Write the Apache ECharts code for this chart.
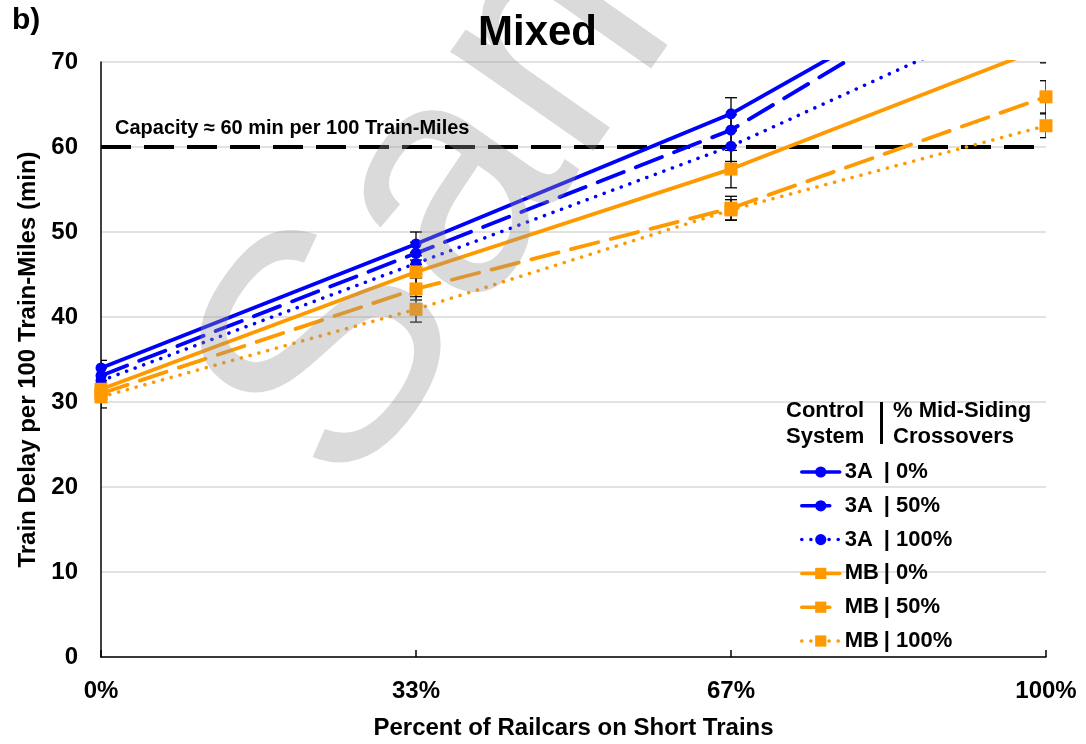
<!DOCTYPE html>
<html>
<head>
<meta charset="utf-8">
<script src="https://cdn.jsdelivr.net/npm/echarts@6/dist/echarts.min.js"></script>
<style>html,body{margin:0;padding:0;background:#fff}#c{width:1086px;height:744px}</style>
</head>
<body>
<div id="c"></div>
<script>
const categories = ['0%', '33%', '67%', '100%'];
const yTicks = [0, 10, 20, 30, 40, 50, 60, 70];
const capacityValue = 60;

const a3_0   = [34.0, 48.6, 63.9, 84.8];
const a3_50  = [33.1, 47.5, 62.0, 84.1];
const a3_100 = [32.5, 46.3, 60.1, 77.0];
const mb_0   = [31.5, 45.3, 57.4, 71.8];
const mb_50  = [31.0, 43.3, 52.8, 65.9];
const mb_100 = [30.6, 40.9, 52.6, 62.5];

const err_a3_0   = [0.9, 1.4, 1.9, 2.0];
const err_a3_50  = [0.9, 1.3, 1.8, 2.0];
const err_a3_100 = [0.9, 1.3, 1.8, 2.0];
const err_mb_0   = [1.0, 1.4, 2.2, 1.9];
const err_mb_50  = [1.0, 1.3, 1.4, 1.9];
const err_mb_100 = [1.3, 1.5, 1.2, 1.4];

const seriesNames = ['3A | 0%', '3A | 50%', '3A | 100%', 'MB | 0%', 'MB | 50%', 'MB | 100%'];
const legendLeft = ['3A', '3A', '3A', 'MB', 'MB', 'MB'];
const legendRight = ['| 0%', '| 50%', '| 100%', '| 0%', '| 50%', '| 100%'];

const BLUE = '#0000ff';
const ORANGE = '#ff9900';
const FONT = "'Liberation Sans', Arial, sans-serif";

const values = [a3_0, a3_50, a3_100, mb_0, mb_50, mb_100];
const errs = [err_a3_0, err_a3_50, err_a3_100, err_mb_0, err_mb_50, err_mb_100];
const colors = [BLUE, BLUE, BLUE, ORANGE, ORANGE, ORANGE];
const symbols = ['circle', 'circle', 'circle', 'rect', 'rect', 'rect'];
const symSizes = [11, 11, 11, 13, 13, 13];
const lineTypes = ['solid', [28, 13], [0.1, 9], 'solid', [28, 13], [0.1, 9]];
const lineWidths = [3.8, 3.8, 3.5, 3.8, 3.8, 3.5];

const series = [];
series.push({
  name: 'Capacity', type: 'line', data: categories.map(() => capacityValue),
  symbol: 'none', silent: true, z: 1,
  lineStyle: { color: '#000', width: 4, type: [30, 13] }
});
values.forEach((vals, si) => {
  series.push({
    name: seriesNames[si] + ' err', type: 'custom', z: 2, clip: true, silent: true,
    data: vals.map((v, i) => [i, v - errs[si][i], v + errs[si][i]]),
    renderItem: function (params, api) {
      const x = api.value(0);
      const lo = api.coord([x, api.value(1)]);
      const hi = api.coord([x, api.value(2)]);
      const cw = 6;
      const st = { stroke: '#000', lineWidth: 1.3, fill: null };
      return {
        type: 'group', children: [
          { type: 'line', shape: { x1: lo[0], y1: lo[1], x2: hi[0], y2: hi[1] }, style: st },
          { type: 'line', shape: { x1: lo[0] - cw, y1: lo[1], x2: lo[0] + cw, y2: lo[1] }, style: st },
          { type: 'line', shape: { x1: hi[0] - cw, y1: hi[1], x2: hi[0] + cw, y2: hi[1] }, style: st }
        ]
      };
    }
  });
});
values.forEach((vals, si) => {
  series.push({
    name: seriesNames[si], type: 'line', data: vals, z: 3,
    symbol: symbols[si], symbolSize: symSizes[si], showAllSymbol: true,
    itemStyle: { color: colors[si] },
    lineStyle: { color: colors[si], width: lineWidths[si], type: lineTypes[si], cap: 'round' }
  });
});

const chart = echarts.init(document.getElementById('c'), null, { renderer: 'canvas' });
chart.setOption({
  animation: false,
  backgroundColor: '#fff',
  textStyle: { fontFamily: FONT },
  grid: { left: 101, right: 40, top: 62, bottom: 87, containLabel: false, outerBoundsMode: 'none' },
  xAxis: {
    type: 'category', data: categories, boundaryGap: false,
    name: 'Percent of Railcars on Short Trains', nameLocation: 'middle', nameGap: 59,
    nameTextStyle: { fontSize: 24, fontWeight: 'bold', color: '#000', fontFamily: FONT },
    axisLine: { lineStyle: { color: '#000', width: 1.5 } },
    axisTick: { show: true, inside: true, length: 7, lineStyle: { color: '#000', width: 1.5 } },
    axisLabel: { fontSize: 24, fontWeight: 'bold', color: '#000', margin: 22, fontFamily: FONT },
    splitLine: { show: false }
  },
  yAxis: {
    type: 'value', min: yTicks[0], max: yTicks[yTicks.length - 1], interval: 10,
    name: 'Train Delay per 100 Train-Miles (min)', nameLocation: 'middle', nameGap: 56,
    nameTextStyle: { fontSize: 24, fontWeight: 'bold', color: '#000', fontFamily: FONT },
    axisLine: { show: true, lineStyle: { color: '#000', width: 1.5 } },
    axisTick: { show: false },
    axisLabel: { fontSize: 24, fontWeight: 'bold', color: '#000', margin: 23, fontFamily: FONT },
    splitLine: { lineStyle: { color: '#d9d9d9', width: 1.5 } }
  },
  legend: {
    data: seriesNames, orient: 'vertical', left: 795, top: 456,
    itemWidth: 38, itemHeight: 14, itemGap: 11.8,
    lineStyle: { width: 3.5 },
    textStyle: {
      fontSize: 22, fontWeight: 'bold', color: '#000', lineHeight: 22, fontFamily: FONT,
      rich: {
        a: { width: 39, fontSize: 22, fontWeight: 'bold', color: '#000', fontFamily: FONT },
        b: { fontSize: 22, fontWeight: 'bold', color: '#000', fontFamily: FONT }
      }
    },
    formatter: function (name) {
      const i = seriesNames.indexOf(name);
      return '{a|' + legendLeft[i] + '}{b|' + legendRight[i] + '}';
    }
  },
  graphic: [
    { type: 'text', x: 595, y: -10, rotation: 55 * Math.PI / 180, z: 100, silent: true,
      style: { text: 'Sample', fontSize: 330, fontFamily: FONT, fill: 'rgba(150,150,150,0.35)', align: 'center', verticalAlign: 'middle' } },
    { type: 'text', left: 12, top: 6, z: 200, style: { text: 'b)', fontSize: 30, fontWeight: 'bold', fill: '#000', fontFamily: FONT } },
    { type: 'text', left: 478, top: 12, z: 200, style: { text: 'Mixed', fontSize: 42, fontWeight: 'bold', fill: '#000', fontFamily: FONT } },
    { type: 'text', left: 115, top: 118, z: 200, style: { text: 'Capacity \u2248 60 min per 100 Train-Miles', fontSize: 20, fontWeight: 'bold', fill: '#000', fontFamily: FONT } },
    { type: 'text', left: 786, top: 398, z: 200, style: { text: 'Control\nSystem', fontSize: 22, lineHeight: 26, fontWeight: 'bold', fill: '#000', fontFamily: FONT } },
    { type: 'rect', left: 880, top: 402, z: 200, shape: { width: 3, height: 42 }, style: { fill: '#000' } },
    { type: 'text', left: 893, top: 398, z: 200, style: { text: '% Mid-Siding\nCrossovers', fontSize: 22, lineHeight: 26, fontWeight: 'bold', fill: '#000', fontFamily: FONT } }
  ],
  series: series
});
</script>
</body>
</html>
